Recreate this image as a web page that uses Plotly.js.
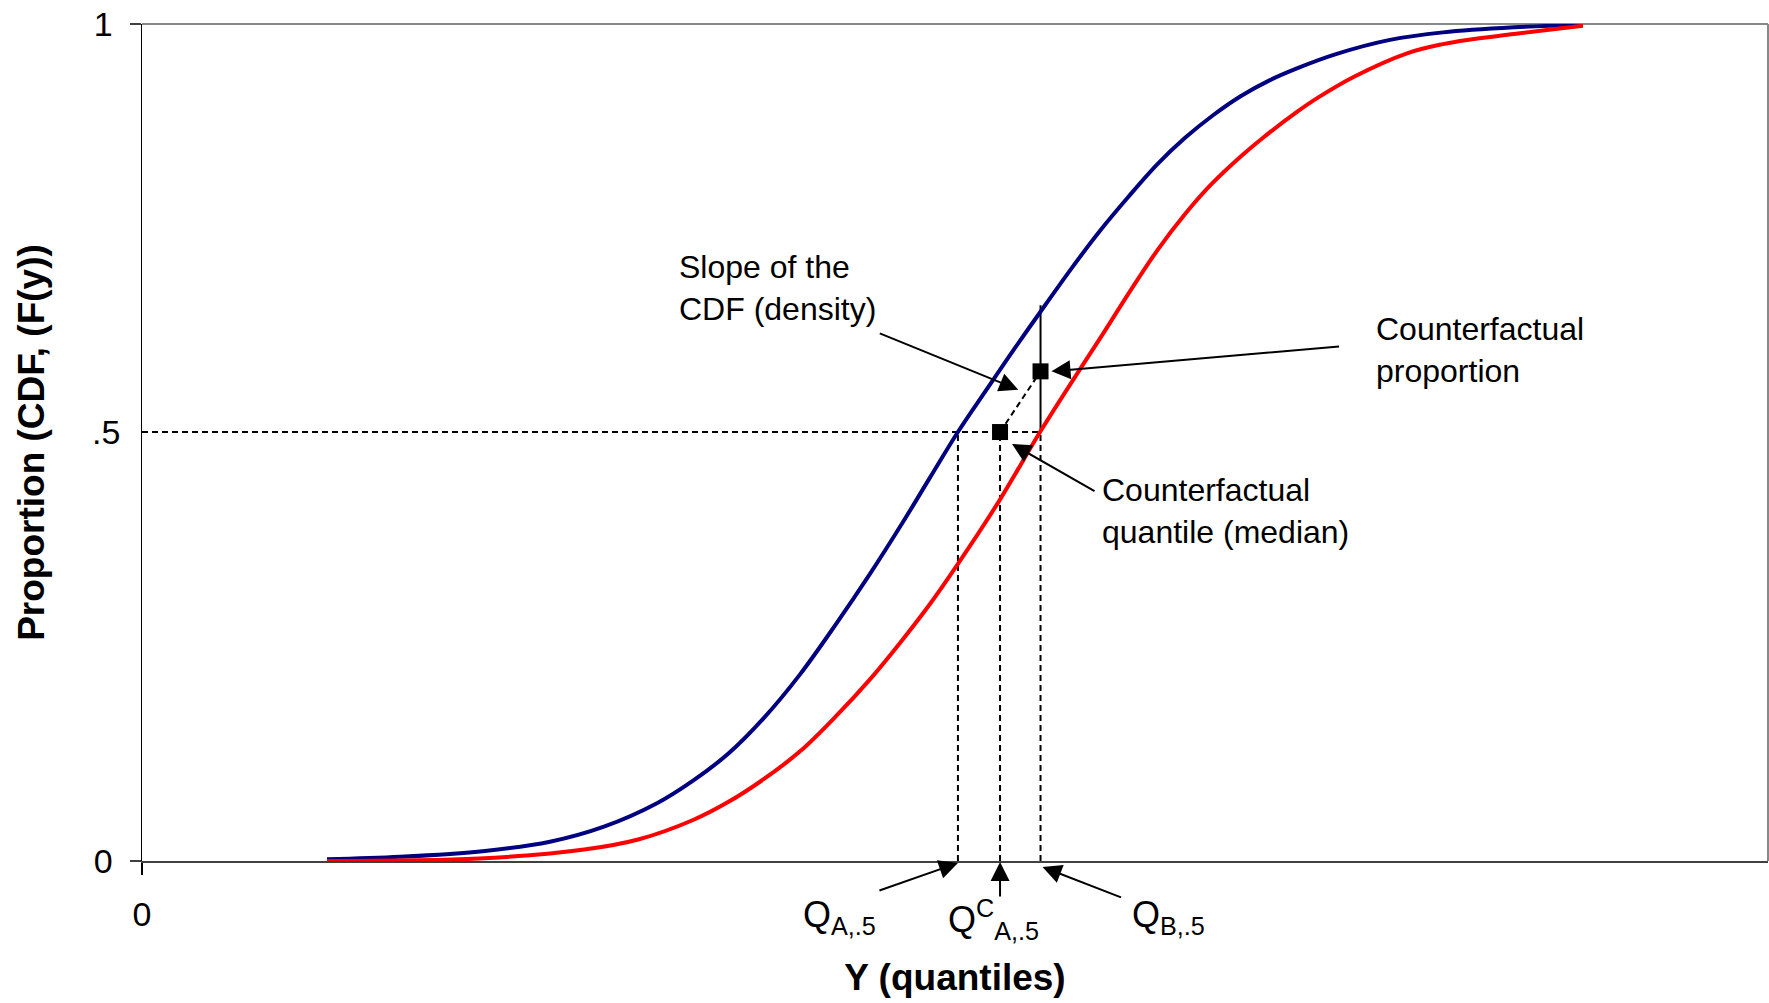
<!DOCTYPE html>
<html>
<head>
<meta charset="utf-8">
<script src="https://cdn.plot.ly/plotly-3.0.1.min.js"></script>
<style>
html, body { margin: 0; padding: 0; background: #ffffff; }
#chart { width: 1769px; height: 1003px; }
</style>
</head>
<body>
<div id="chart"></div>
<script>
// ---- data ----
// Y (quantiles) on an arbitrary 0-100 scale, proportion F(y) on 0-1
const yQuantA = [11.38, 15.87, 21.09, 25.09, 28.41, 31.67, 33.89, 36.10, 38.25, 40.47, 42.68, 44.77, 46.80, 48.46, 50.18, 51.97, 53.69, 55.54, 57.20, 58.92, 60.64, 62.42, 64.15, 65.87, 67.59, 69.37, 71.03, 73.43, 76.75, 80.01, 84.38, 88.62];
const cdfA    = [0.002, 0.005, 0.012, 0.023, 0.041, 0.069, 0.096, 0.129, 0.171, 0.223, 0.283, 0.343, 0.405, 0.458, 0.5125, 0.564, 0.613, 0.664, 0.709, 0.753, 0.793, 0.832, 0.864, 0.891, 0.914, 0.933, 0.947, 0.964, 0.981, 0.990, 0.996, 0.999];

const yQuantB = [11.38, 20.73, 27.31, 30.57, 33.89, 36.10, 38.25, 40.47, 42.68, 44.77, 46.80, 48.46, 50.18, 52.71, 55.23, 57.87, 59.04, 60.64, 62.42, 64.15, 65.74, 67.59, 69.00, 71.03, 72.32, 74.54, 77.80, 80.01, 81.49, 84.38, 88.62];
const cdfB    = [0.000, 0.003, 0.014, 0.026, 0.049, 0.071, 0.098, 0.131, 0.173, 0.217, 0.265, 0.307, 0.355, 0.430, 0.5125, 0.593, 0.628, 0.677, 0.729, 0.773, 0.808, 0.842, 0.865, 0.895, 0.912, 0.937, 0.965, 0.976, 0.981, 0.988, 0.998];

// guide values
const medianLevel = 0.5125;          // the ".5" proportion as drawn
const qA = 50.18;                    // Q_A,.5
const qCounterfactual = 52.77;       // Q^C_A,.5
const qB = 55.26;                    // Q_B,.5
const cdfAatQB = 0.664;              // F_A(Q_B,.5)
const counterfactualProportion = 0.585;

// tick labels
const xTickVals = [0], xTickText = ['0'];
const yTickVals = [0, 1], yTickText = ['0', '1'];
const midTickText = '.5';

const FONT = 'Liberation Sans, Arial, Helvetica, sans-serif';

const traces = [
  { x: yQuantA, y: cdfA, mode: 'lines', line: { color: '#000080', width: 4, shape: 'spline', smoothing: 1 }, hoverinfo: 'skip' },
  { x: yQuantB, y: cdfB, mode: 'lines', line: { color: '#ff0000', width: 4, shape: 'spline', smoothing: 1 }, hoverinfo: 'skip' },
  { x: [qCounterfactual, qB], y: [medianLevel, counterfactualProportion], mode: 'markers',
    marker: { symbol: 'square', size: 16, color: '#000000' }, hoverinfo: 'skip' }
];

const dash = { color: '#000000', width: 2, dash: '6px,4px' };
const shapes = [
  // plot-area border (top, right)
  { type: 'line', xref: 'paper', yref: 'paper', x0: 0, x1: 1, y0: 1, y1: 1, line: { color: '#888888', width: 2 }, layer: 'below' },
  { type: 'line', xref: 'paper', yref: 'paper', x0: 1, x1: 1, y0: 0, y1: 1, line: { color: '#888888', width: 2 }, layer: 'below' },
  // median level
  { type: 'line', xref: 'x', yref: 'y', x0: 0, x1: qB, y0: medianLevel, y1: medianLevel, line: dash, layer: 'below' },
  { type: 'line', xref: 'x', yref: 'y', x0: qA, x1: qA, y0: 0, y1: medianLevel, line: dash, layer: 'below' },
  { type: 'line', xref: 'x', yref: 'y', x0: qCounterfactual, x1: qCounterfactual, y0: 0, y1: medianLevel, line: dash, layer: 'below' },
  { type: 'line', xref: 'x', yref: 'y', x0: qB, x1: qB, y0: 0, y1: medianLevel, line: dash, layer: 'below' },
  { type: 'line', xref: 'x', yref: 'y', x0: qB, x1: qB, y0: medianLevel, y1: cdfAatQB, line: { color: '#000000', width: 2 }, layer: 'below' },
  // slope of the CDF
  { type: 'line', xref: 'x', yref: 'y', x0: qCounterfactual, x1: qB, y0: medianLevel, y1: counterfactualProportion, line: dash, layer: 'below' }
];

function arrow(x, y, ax, ay, xshift, yshift) {
  return { x: x, y: y, xref: 'x', yref: 'y', ax: ax, ay: ay, text: '', showarrow: true,
           arrowhead: 2, arrowsize: 1.9, arrowwidth: 2, arrowcolor: '#000000',
           xshift: xshift || 0, yshift: yshift || 0 };
}
function label(x, y, text, xanchor, size, yref) {
  return { x: x, y: y, xref: 'x', yref: yref || 'y', text: text, showarrow: false, xanchor: xanchor, yanchor: 'middle',
           align: 'left', font: { family: FONT, size: size || 32, color: '#000000' } };
}

const annotations = [
  // ".5" tick label
  { x: 0, y: medianLevel, xref: 'paper', yref: 'y', text: midTickText, showarrow: false, xanchor: 'right', yanchor: 'middle',
    xshift: -20, font: { family: FONT, size: 34, color: '#000000' } },
  // callouts
  label(32.9, 0.6846, 'Slope of the<br>CDF (density)', 'left'),
  arrow((qCounterfactual + qB) / 2, (medianLevel + counterfactualProportion) / 2, -140, -57, -2, 12),
  label(75.77, 0.6105, 'Counterfactual<br>proportion', 'left'),
  arrow(qB, counterfactualProportion, 289, -25, 11, 0),
  label(58.92, 0.418, 'Counterfactual<br>quantile (median)', 'left'),
  arrow(qCounterfactual, medianLevel, 84, 48, 12, -12),
  // quantile labels below the axis
  arrow(qA, 0, -80, 28, 0, -2),
  arrow(qCounterfactual, 0, 0, 36, 0, -1),
  arrow(qB, 0, 80, 31, 2, -6),
  label(42.87, -0.0675, 'Q<sub>A,.5</sub>', 'center', 36, 'paper'),
  label(52.34, -0.070, 'Q<sup>C</sup><sub>A,.5</sub>', 'center', 36, 'paper'),
  label(63.16, -0.0675, 'Q<sub>B,.5</sub>', 'center', 36, 'paper')
];

const layout = {
  width: 1769, height: 1003,
  margin: { l: 142, r: 1, t: 24, b: 142 },
  paper_bgcolor: '#ffffff', plot_bgcolor: '#ffffff',
  showlegend: false,
  font: { family: FONT, color: '#000000' },
  xaxis: {
    range: [0, 100], showgrid: false, zeroline: false,
    showline: true, linecolor: '#404040', linewidth: 2,
    ticks: 'outside', ticklen: 12, tickwidth: 1.5, tickcolor: '#000000',
    tickvals: xTickVals, ticktext: xTickText, ticklabelstandoff: 10,
    tickfont: { family: FONT, size: 34, color: '#000000' },
    title: { text: '<b>Y (quantiles)</b>', font: { family: FONT, size: 37, color: '#000000' }, standoff: 32 }
  },
  yaxis: {
    range: [0, 1], showgrid: false, zeroline: false,
    showline: true, linecolor: '#000000', linewidth: 1.5,
    ticks: 'outside', ticklen: 11, tickwidth: 1.5, tickcolor: '#404040',
    tickvals: yTickVals, ticktext: yTickText, ticklabelstandoff: 10,
    tickfont: { family: FONT, size: 34, color: '#000000' },
    title: { text: '<b>Proportion (CDF, (F(y))</b>', font: { family: FONT, size: 37, color: '#000000' }, standoff: 38 }
  },
  shapes: shapes,
  annotations: annotations
};

Plotly.newPlot('chart', traces, layout, { displayModeBar: false, staticPlot: true });
</script>
</body>
</html>
